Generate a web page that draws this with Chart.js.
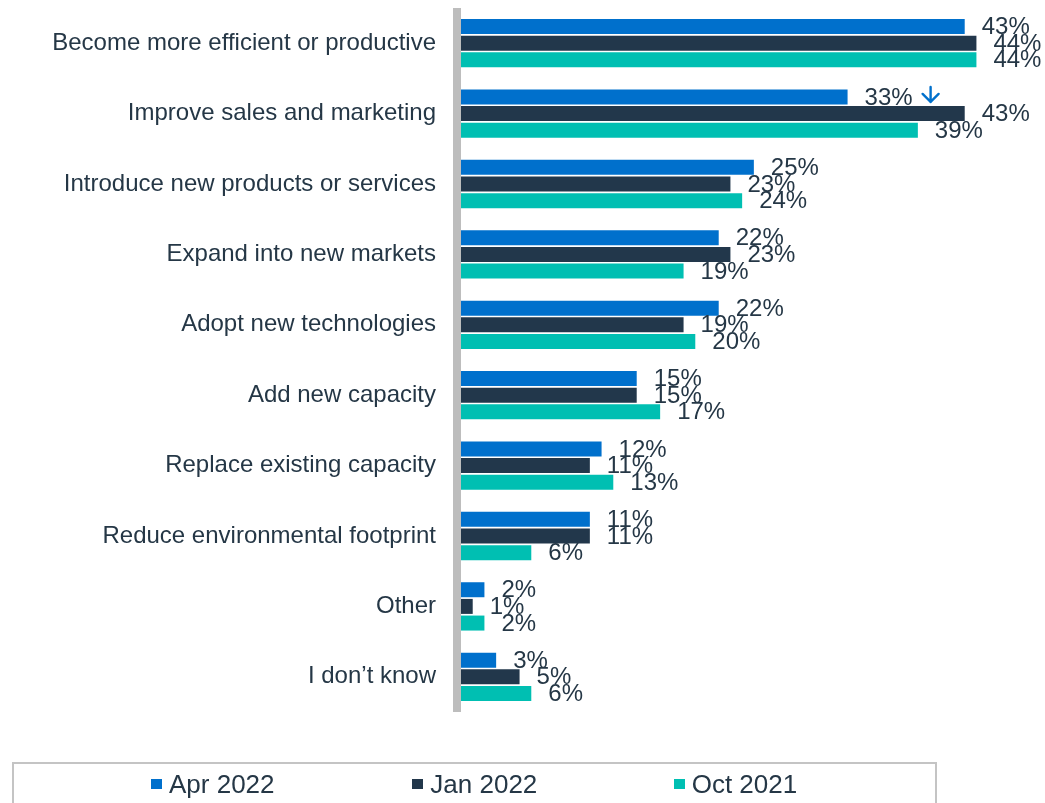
<!DOCTYPE html>
<html>
<head>
<meta charset="utf-8">
<script src="https://cdn.jsdelivr.net/npm/chart.js@4/dist/chart.umd.min.js"></script>
<style>
  html, body { margin: 0; padding: 0; background: #ffffff; }
  #wrap { position: relative; width: 1045px; height: 803px; overflow: hidden; }
  #chart { position: absolute; left: 0; top: 0; }
  #legend {
    position: absolute; left: 12px; top: 762px; width: 921px; height: 70px;
    border: 2px solid #c4c4c4; box-sizing: content-box;
    font-family: Arial, "Liberation Sans", sans-serif; font-size: 26px; color: #253746;
  }
  #legend .row { display: flex; padding-left: 137px; height: 40px; align-items: center; }
  #legend .item { display: flex; align-items: center; width: 265px; }
  #legend .box { width: 11px; height: 10px; margin-right: 7px; flex: none; }
</style>
</head>
<body>
<div id="wrap">
  <canvas id="chart" width="1045" height="803"></canvas>
  <div id="legend"><div class="row"></div></div>
</div>
<script>
// Survey answers: reasons for investing, three survey waves (% of respondents)
const categories = [
  'Become more efficient or productive',
  'Improve sales and marketing',
  'Introduce new products or services',
  'Expand into new markets',
  'Adopt new technologies',
  'Add new capacity',
  'Replace existing capacity',
  'Reduce environmental footprint',
  'Other',
  'I don\u2019t know'
];
const seriesNames = ['Apr 2022', 'Jan 2022', 'Oct 2021'];
const apr2022 = [43, 33, 25, 22, 22, 15, 12, 11, 2, 3];
const jan2022 = [44, 43, 23, 23, 19, 15, 11, 11, 1, 5];
const oct2021 = [44, 39, 24, 19, 20, 17, 13, 6, 2, 6];
const seriesColors = ['#0070CC', '#22374B', '#00BFB2'];
// Downward-trend marker shown after one value label
const trendArrow = { series: 0, category: 'Improve sales and marketing' };

const FONT = 'Arial, "Liberation Sans", sans-serif';
const TEXT = '#253746';

// Thick grey baseline on the left of the bars
const baselinePlugin = {
  id: 'baseline',
  beforeDatasetsDraw(chart) {
    const { ctx, chartArea } = chart;
    ctx.save();
    ctx.fillStyle = '#bdbdbd';
    ctx.fillRect(chartArea.left - 8, chartArea.top, 8, chartArea.bottom - chartArea.top);
    ctx.restore();
  }
};

// Percentage labels next to each bar end
const valueLabelPlugin = {
  id: 'valueLabels',
  afterDatasetsDraw(chart) {
    const { ctx } = chart;
    ctx.save();
    ctx.font = '24px ' + FONT;
    ctx.fillStyle = TEXT;
    ctx.textAlign = 'left';
    ctx.textBaseline = 'middle';
    chart.data.datasets.forEach((ds, di) => {
      const meta = chart.getDatasetMeta(di);
      meta.data.forEach((bar, i) => {
        const txt = ds.data[i] + '%';
        const x = bar.x + 17;
        ctx.fillText(txt, x, bar.y + 1);
        if (di === trendArrow.series && chart.data.labels[i] === trendArrow.category) {
          const cx = x + ctx.measureText(txt).width + 18;
          const y = bar.y;
          ctx.save();
          ctx.strokeStyle = seriesColors[0];
          ctx.lineWidth = 2.4;
          ctx.lineCap = 'round';
          ctx.lineJoin = 'round';
          ctx.beginPath();
          ctx.moveTo(cx, y - 10);
          ctx.lineTo(cx, y + 5);
          ctx.moveTo(cx - 8, y - 3);
          ctx.lineTo(cx, y + 5);
          ctx.lineTo(cx + 8, y - 3);
          ctx.stroke();
          ctx.restore();
        }
      });
    });
    ctx.restore();
  }
};

const chart = new Chart(document.getElementById('chart'), {
  type: 'bar',
  data: {
    labels: categories,
    datasets: [apr2022, jan2022, oct2021].map((values, k) => ({
      label: seriesNames[k],
      data: values,
      backgroundColor: seriesColors[k],
      borderWidth: 0,
      barPercentage: 0.9,
      categoryPercentage: 0.71
    }))
  },
  options: {
    indexAxis: 'y',
    responsive: false,
    animation: false,
    devicePixelRatio: 1,
    layout: { padding: { top: 8, bottom: 91, left: 0, right: 10 } },
    plugins: {
      legend: { display: false },
      tooltip: { enabled: false }
    },
    scales: {
      x: {
        min: 0,
        max: 49,
        display: false
      },
      y: {
        grid: { display: false, drawTicks: false },
        border: { display: false },
        ticks: {
          padding: 25,
          color: TEXT,
          font: { family: FONT, size: 24 }
        },
        afterFit(scale) {
          scale.width = 461;
          scale.paddingTop = 0;
          scale.paddingBottom = 0;
        }
      }
    }
  },
  plugins: [baselinePlugin, valueLabelPlugin]
});

// Legend entries built from the chart's own legend label generator
const row = document.querySelector('#legend .row');
Chart.defaults.plugins.legend.labels.generateLabels(chart).forEach(item => {
  const el = document.createElement('div');
  el.className = 'item';
  const box = document.createElement('span');
  box.className = 'box';
  box.style.background = item.fillStyle;
  const label = document.createElement('span');
  label.textContent = item.text;
  el.appendChild(box);
  el.appendChild(label);
  row.appendChild(el);
});
</script>
</body>
</html>
